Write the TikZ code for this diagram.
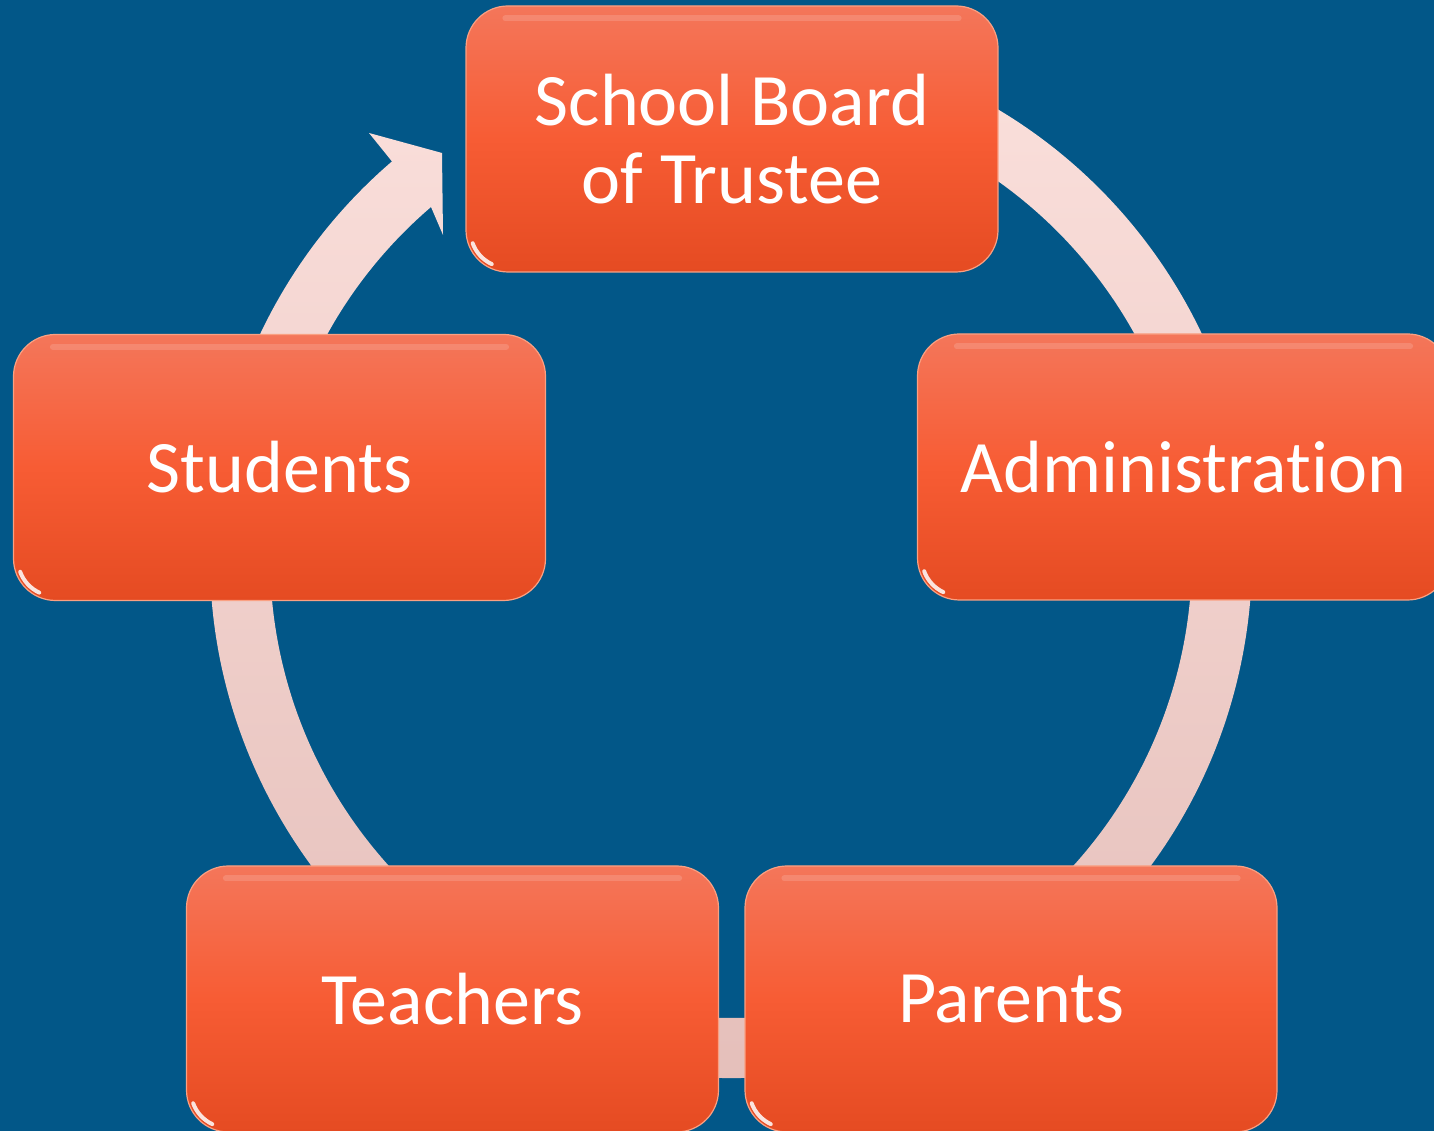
\documentclass[tikz,border=0pt]{standalone}
\usepackage{fontspec}
\setmainfont{Carlito}[Ligatures={NoCommon}]
\usetikzlibrary{calc}
\definecolor{bg}{RGB}{2,87,136}
\definecolor{boxtop}{RGB}{244,118,90}
\definecolor{boxmid}{RGB}{247,92,52}
\definecolor{boxbot}{RGB}{229,75,34}
\definecolor{boxedge}{RGB}{250,160,130}
\definecolor{ringtop}{RGB}{251,224,220}
\definecolor{ringbot}{RGB}{228,190,185}
\begin{document}
\begin{tikzpicture}[x=1pt,y=1pt,
  stage/.style={rectangle, rounded corners=42pt, minimum width=532pt, minimum height=266pt,
    top color=boxtop, bottom color=boxbot, middle color=boxmid,
    draw=boxedge, line width=1.2pt, text=white,
    font=\fontsize{74}{80}\selectfont, align=center},
  ring/.style={top color=ringtop, bottom color=ringbot},
  glint/.style={white, line width=4pt, opacity=0.85, line cap=round},
  topband/.style={white, line width=6pt, opacity=0.15, line cap=round}]
\path[use as bounding box] (0,0) rectangle (1434,1131);
\fill[bg] (0,0) rectangle (1434,1131);
\clip (0,0) rectangle (1434,1131);
\coordinate (C) at (731,574);
% cycle ring with truncated arrow head
\shade[ring]
  ($(C)+(440:521)$) arc[start angle=440, end angle=130.6, radius=521]
  -- (369,998) -- (442,978) -- (443,896) -- ($(C)+(130.6:461)$)
  arc[start angle=130.6, end angle=440, radius=461] -- cycle;
% stages
\node[stage] (board) at (732,992) {School Board\\[-2pt]of Trustee};
\node[stage] (admin) at (1183.5,664) {Administration};
\node[stage] (parents) at (1011,132) {Parents};
\node[stage] (teachers) at (452.5,132) {Teachers};
\node[stage] (students) at (279.5,663.5) {Students};
% highlights
\foreach \n in {board,admin,parents,teachers,students}{
  \draw[glint] ($(\n.south west)+(42,42)+(200:37)$) arc[start angle=200, end angle=245, radius=37];
  \draw[topband] ($(\n.north west)+(40,-13)$) -- ($(\n.north east)+(-40,-13)$);
}
\end{tikzpicture}
\end{document}
